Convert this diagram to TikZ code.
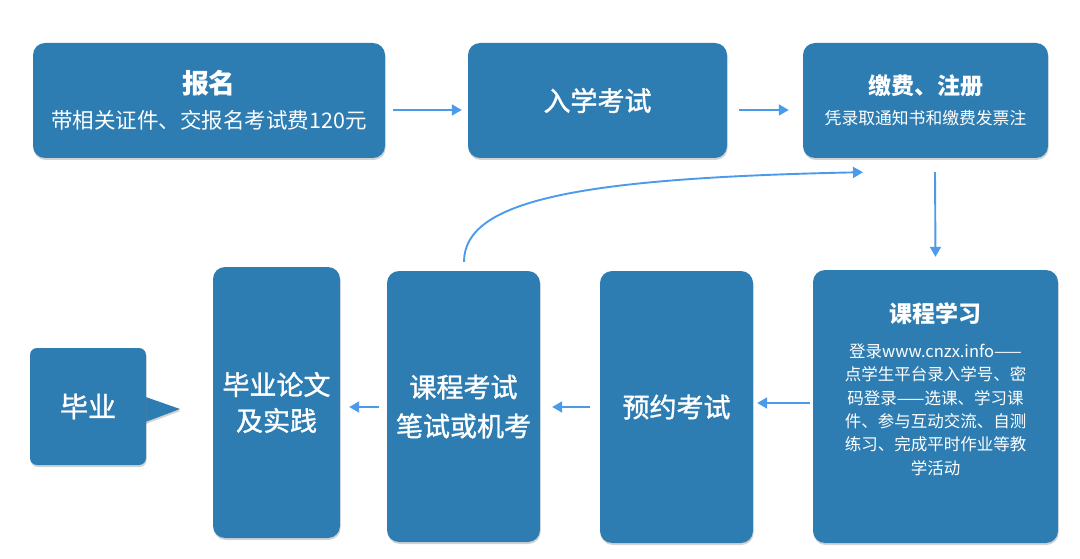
\documentclass[tikz,border=0pt]{standalone}
\usepackage{fontspec}
\setmainfont{Noto Sans CJK SC}
\newfontfamily\medfont{Noto Sans CJK SC}[FakeBold=1.2]
\usetikzlibrary{shadows,calc,arrows.meta}
\definecolor{boxblue}{RGB}{46,125,178}
\definecolor{arrblue}{RGB}{76,155,234}
\tikzset{
  box/.style={fill=boxblue, rounded corners=12pt, text=white, align=center, inner sep=0pt,
    drop shadow={opacity=0.35, shadow xshift=0.6pt, shadow yshift=-2pt}},
  txt/.style={text=white, align=center, inner sep=0pt},
  conn/.style={draw=arrblue, line width=1.9pt, -{Triangle[length=10pt,width=11pt]}},
}
\newcommand{\fs}[2]{\fontsize{#1}{#2}\selectfont}
\begin{document}
\begin{tikzpicture}[x=1pt,y=-1pt]
\useasboundingbox (0,0) rectangle (1080,559);
% top row
\node[box, minimum width=352pt, minimum height=115pt, font=\fs{21.5}{35}] (b1) at (209,100.5)
  {{\fs{27}{35}\bfseries 报名}\\ 带相关证件、交报名考试费120元};
\node[box, minimum width=259pt, minimum height=115pt, font=\medfont\fs{27}{32}] (b2) at (597.5,100.5) {入学考试};
\node[box, minimum width=245pt, minimum height=115pt, font=\fs{16.8}{30}] (b3) at (925.5,100.5)
  {{\fs{23}{30}\bfseries 缴费、注册}\\ 凭录取通知书和缴费发票注};
% bottom row
\node[box, minimum width=245pt, minimum height=273pt] (b4) at (935.5,406.5) {};
\node[txt, font=\fs{16.5}{23.3}] (b4t) at (935.5,389)
  {{\fs{23}{23.3}\bfseries 课程学习}\\[11.7pt]
   登录www.cnzx.info——\\
   点学生平台录入学号、密\\
   码登录——选课、学习课\\
   件、参与互动交流、自测\\
   练习、完成平时作业等教\\
   学活动};
\node[box, minimum width=153pt, minimum height=272pt, font=\medfont\fs{27}{32}] (b5) at (676.5,407) {预约考试};
\node[box, minimum width=153pt, minimum height=271pt, font=\medfont\fs{27}{39}] (b6) at (463.5,406.5) {课程考试\\笔试或机考};
\node[box, minimum width=127pt, minimum height=271pt, font=\medfont\fs{27}{36}] (b7) at (276.5,402.5) {毕业论文\\及实践};
% graduation box with pointer
\path[fill=boxblue, drop shadow={opacity=0.35, shadow xshift=0.6pt, shadow yshift=-2pt}]
  (140,395) -- (180,409) -- (140,424) -- cycle;
\node[box, rounded corners=7pt, minimum width=116pt, minimum height=117pt, font=\medfont\fs{28}{32}] (b8) at (88,406.5) {毕业};
% connectors
\draw[conn] ($(b1.east)+(8,9.5)$) -- ($(b2.west)+(-6,9.5)$);
\draw[conn] ($(b2.east)+(12,9.5)$) -- ($(b3.west)+(-14,9.5)$);
\draw[conn] ($(b3.south)+(9.5,14)$) -- ($(b4.north)+(0,-13)$);
\draw[conn] ($(b4.west)+(-3,-3.5)$) -- ($(b5.east)+(4,-4)$);
\draw[conn] ($(b5.west)+(-10,0)$) -- ($(b6.east)+(12,0.5)$);
\draw[conn] ($(b6.west)+(-8,0.5)$) -- ($(b7.east)+(9,4.5)$);
\draw[conn] ($(b6.north)+(0.5,-9)$) .. controls (464,200) and (580,178) .. ($(b3.south)+(-62.5,14)$);
\end{tikzpicture}
\end{document}
